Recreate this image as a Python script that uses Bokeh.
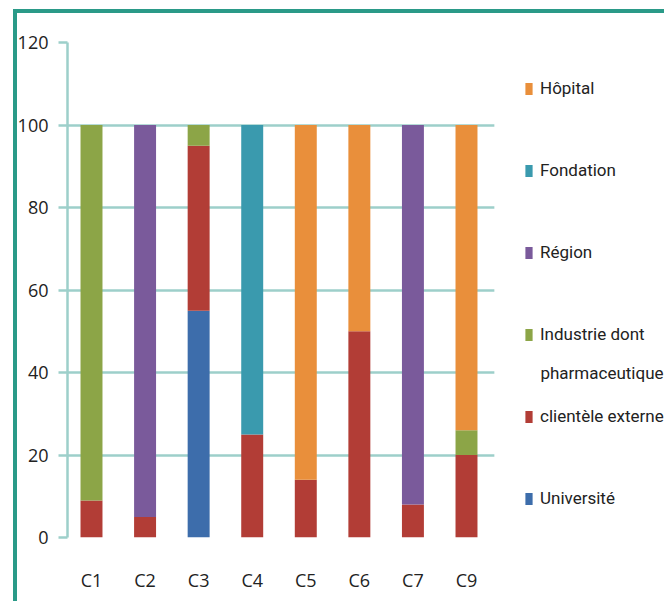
from bokeh.plotting import figure
from bokeh.models import Range1d, Legend, LegendItem, Label, BoxAnnotation, FixedTicker
from bokeh.embed import file_html
from bokeh.resources import INLINE

categories = ["C1", "C2", "C3", "C4", "C5", "C6", "C7", "C9"]
universite = [0, 0, 55, 0, 0, 0, 0, 0]
clientele = [9, 5, 40, 25, 14, 50, 8, 20]
industrie = [91, 0, 5, 0, 0, 0, 0, 6]
region = [0, 95, 0, 0, 0, 0, 92, 0]
fondation = [0, 0, 0, 75, 0, 0, 0, 0]
hopital = [0, 0, 0, 0, 86, 50, 0, 74]
y_ticks = [0, 20, 40, 60, 80, 100, 120]

series_keys = ["universite", "clientele", "industrie", "region", "fondation", "hopital"]
series_labels = ["Université", "clientèle externe", "Industrie dont", "Région", "Fondation", "Hôpital"]
series_colors = ["#3d6dab", "#b23d36", "#8ca547", "#7a5a9b", "#3a9aae", "#e98f3b"]

pos = list(range(len(categories)))
data = dict(pos=pos, universite=universite, clientele=clientele, industrie=industrie,
            region=region, fondation=fondation, hopital=hopital)

FONT = "Open Sans"
LFONT = "Roboto"
GRID = "#9dcfca"
FRAME = "#2a9a88"

p = figure(x_range=Range1d(-0.448, 10.696), y_range=Range1d(0, 120),
           width=664, height=601, output_backend="svg", toolbar_location=None,
           min_border_left=67, min_border_right=0, min_border_top=42, min_border_bottom=64)
p.outline_line_color = None
p.background_fill_color = "white"
p.border_fill_alpha = 0
p.styles = {"box-shadow": f"inset 13px 9px 0 0 #ffffff, inset 17px 13px 0 0 {FRAME}",
            "background-color": "#ffffff"}

renderers = p.vbar_stack(series_keys, x="pos", width=0.41, fill_color=series_colors,
                         line_color=None, source=data)

p.xgrid.grid_line_color = None
p.ygrid.grid_line_color = GRID
p.ygrid.grid_line_width = 2.5

# hide grid beyond the bar area (legend zone)
p.add_layout(BoxAnnotation(left=7.52, right=30, bottom=-20, top=200, fill_color="white",
                           fill_alpha=1, line_color=None, level="underlay"))

p.yaxis.ticker = FixedTicker(ticks=y_ticks)
p.yaxis.axis_line_color = GRID
p.yaxis.axis_line_width = 2.5
p.yaxis.major_tick_line_color = GRID
p.yaxis.major_tick_line_width = 2.5
p.yaxis.major_tick_out = 9
p.yaxis.major_tick_in = 0
p.yaxis.minor_tick_line_color = None
p.yaxis.major_label_standoff = 10
p.yaxis.major_label_text_font = FONT
p.yaxis.major_label_text_font_size = "18px"
p.yaxis.major_label_text_color = "#222222"

p.xaxis.ticker = FixedTicker(ticks=pos)
p.xaxis.major_label_overrides = {i: c for i, c in zip(pos, categories)}
p.xaxis.axis_line_color = None
p.xaxis.major_tick_line_color = None
p.xaxis.minor_tick_line_color = None
p.xaxis.major_label_standoff = 24
p.xaxis.major_label_text_font = FONT
p.xaxis.major_label_text_font_size = "18px"
p.xaxis.major_label_text_color = "#222222"

items = [LegendItem(label=lab, renderers=[r]) for lab, r in zip(series_labels, renderers)]
items = items[::-1]
legend = Legend(items=items, location=(457, 29), orientation="vertical",
                glyph_width=9, glyph_height=15, label_standoff=7, spacing=62,
                label_height=20, padding=0, margin=0,
                border_line_color=None, background_fill_alpha=0,
                label_text_font=LFONT, label_text_font_size="17px", label_text_color="#222222")
p.add_layout(legend)

p.add_layout(Label(x=8.38, y=39.8, text="pharmaceutique", text_font=LFONT, text_font_size="17px",
                   text_color="#222222", text_baseline="middle", text_align="left"))

open("out.html", "w").write(file_html(p, INLINE))
